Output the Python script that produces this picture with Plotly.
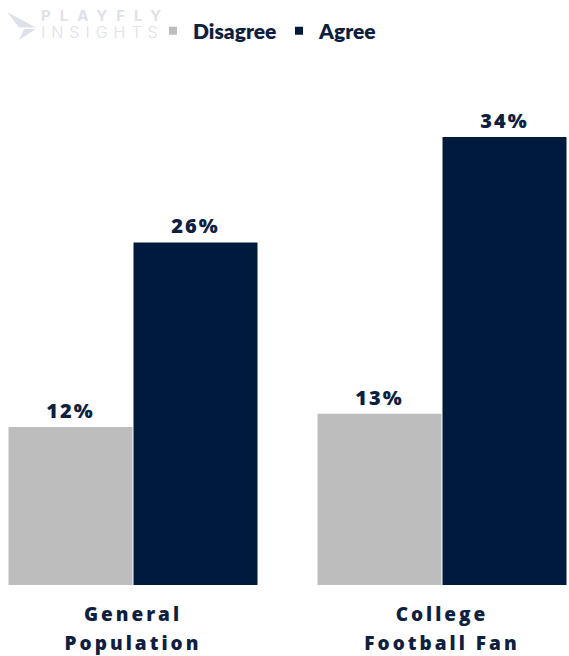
import plotly.graph_objects as go

# Survey results: share of respondents by group
CATEGORIES = ["General Population", "College Football Fan"]
TICK_LINES = [["General", "Population"], ["College", "Football Fan"]]
SERIES = ["Disagree", "Agree"]
DISAGREE = [12, 13]
AGREE = [26, 34]

GRAY = "#BDBDBD"
NAVY = "#001A3D"
TEXT_NAVY = "#0F1F3F"
LOGO = "#DEE1E9"
FONT = "Open Sans"

W, H = 569, 656
M_TOP, M_BOT = 58, 71
PLOT_H = H - M_TOP - M_BOT


def px(x):
    return x / W


def py(y):
    return (H - M_BOT - y) / PLOT_H


def spaced(text, size, spacing, extra=""):
    return f'<span style="font-size:{size}px;letter-spacing:{spacing}px{extra}">{text}</span>'


fig = go.Figure()

for name, vals, color in [(SERIES[0], DISAGREE, GRAY), (SERIES[1], AGREE, NAVY)]:
    fig.add_trace(go.Bar(
        x=CATEGORIES, y=vals, name=name, marker=dict(color=color, line=dict(width=0)),
        text=[spaced(f"{v}%", 20, 2) for v in vals],
        textposition="outside",
        textfont=dict(family=FONT, size=20, color=TEXT_NAVY, weight=800),
        cliponaxis=False, showlegend=False, hoverinfo="skip",
    ))
    # legend entry with a small square swatch
    fig.add_trace(go.Scatter(
        x=[None], y=[None], mode="markers", name=name,
        marker=dict(symbol="square", size=8, color=color),
    ))

tick_text = ["<br>".join(spaced(t, 19, 3) for t in lines) for lines in TICK_LINES]

fig.update_layout(
    width=W, height=H,
    margin=dict(l=0, r=0, t=M_TOP, b=M_BOT, pad=0, autoexpand=False),
    paper_bgcolor="white", plot_bgcolor="white",
    barmode="group", bargap=0.191, bargroupgap=0.008,
    xaxis=dict(
        type="category", range=[-0.4304, 1.4110], automargin=False,
        tickvals=CATEGORIES, ticktext=tick_text,
        tickfont=dict(family=FONT, size=22.5, color=TEXT_NAVY, weight=800),
        showgrid=False, showline=False, zeroline=False, ticks="",
        ticklabelstandoff=12,
    ),
    yaxis=dict(range=[0, 40], visible=False, automargin=False),
    showlegend=True,
    legend=dict(
        orientation="h", xref="container", yref="container",
        x=px(153), y=1 - 31 / H, xanchor="left", yanchor="middle",
        font=dict(family="Lato", size=21, color=TEXT_NAVY, weight=800),
        bgcolor="rgba(0,0,0,0)", itemclick=False, entrywidth=81,
    ),
)

# Brand mark: chevron plus wordmark
chevron_upper = [(7, 12), (36, 27.5), (19, 27.5)]
chevron_lower = [(36, 29), (24, 29), (19, 40)]
for poly in (chevron_upper, chevron_lower):
    path = "M " + " L ".join(f"{px(x)},{py(y)}" for x, y in poly) + " Z"
    fig.add_shape(type="path", path=path, xref="paper", yref="paper",
                  fillcolor=LOGO, line=dict(width=0), layer="above")

fig.add_annotation(
    text=spaced("PLAYFLY", 15, 9, ";font-weight:700") + "<br>"
    + spaced("INSIGHTS", 16, 6, ";font-weight:300"),
    xref="paper", yref="paper", x=px(39), y=py(24), xanchor="left", yanchor="middle",
    align="left", showarrow=False, font=dict(family="Inter", size=13, color=LOGO),
)

fig.write_html("out.html")
